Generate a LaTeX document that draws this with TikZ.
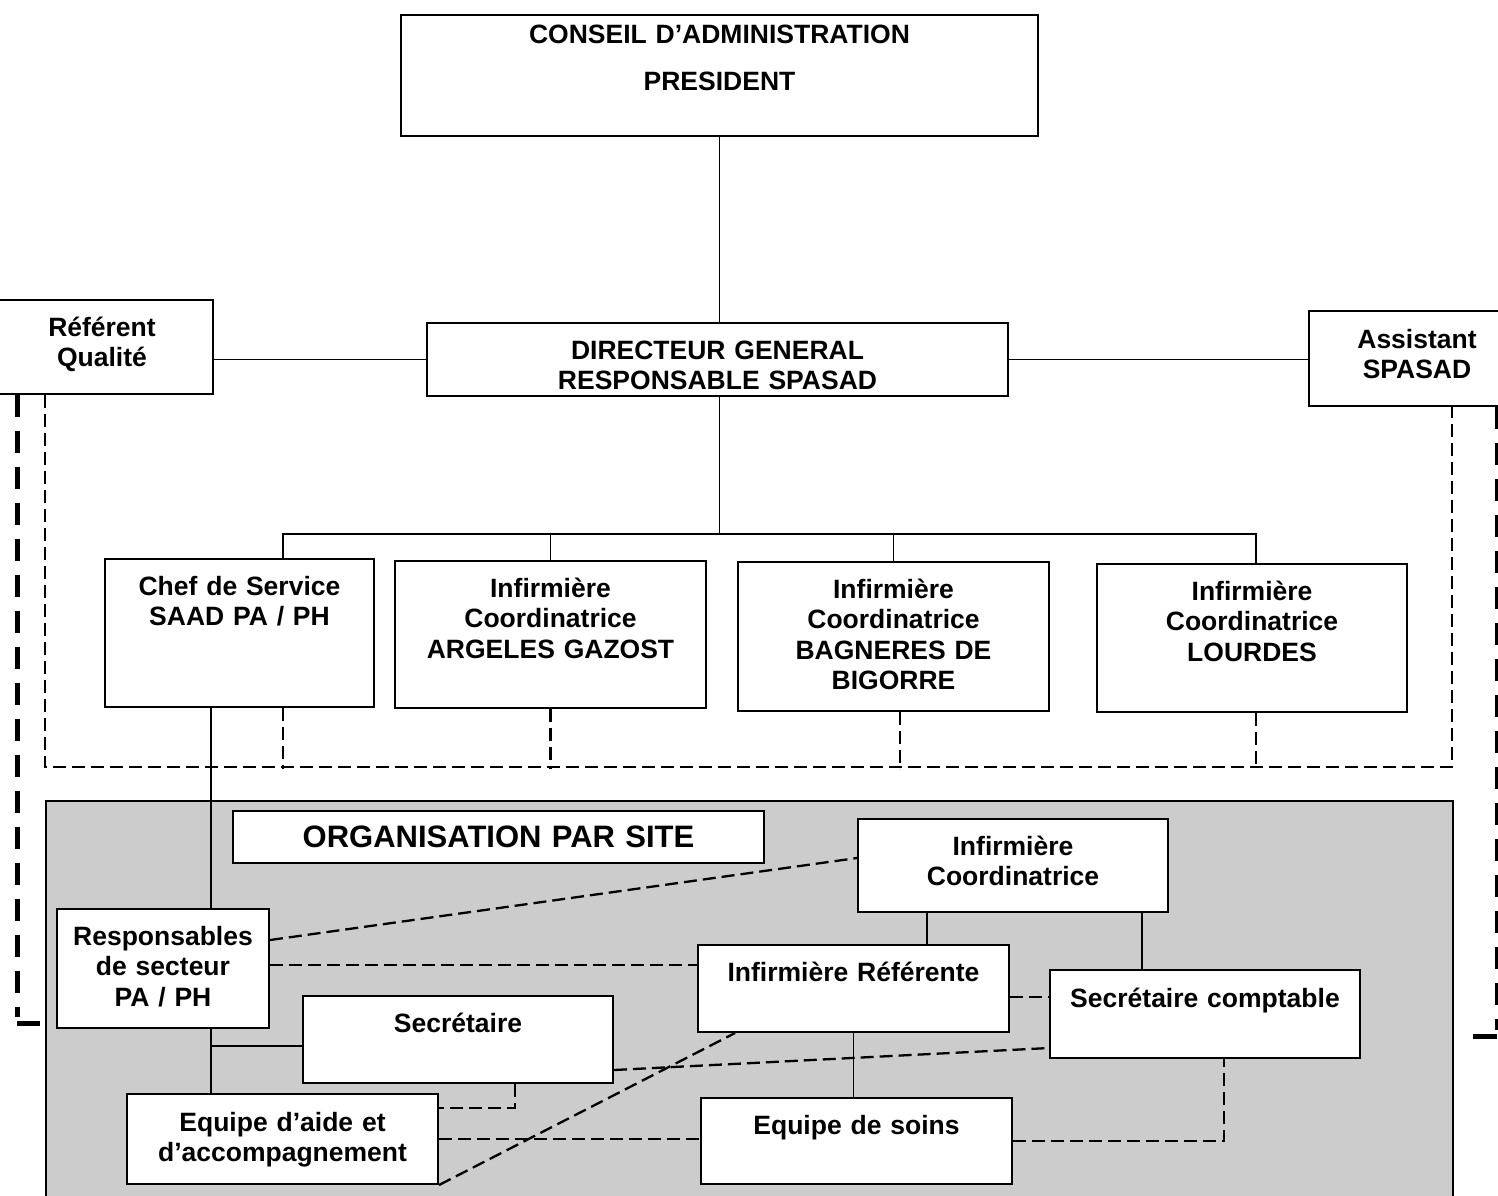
\documentclass[tikz,border=0pt]{standalone}
\usepackage{fontspec}
\setmainfont{Liberation Sans}

\begin{document}
\begin{tikzpicture}[x=1pt,y=-1pt,
	orgbox/.style={draw, line width=2pt, fill=white, anchor=north west, inner sep=0pt, align=center, text height=36pt, font=\fontsize{26.5}{30.5}\selectfont\bfseries},
	link/.style={line width=1.8pt},
	dashlink/.style={line width=2.3pt, dash pattern=on 13pt off 6pt},
	bigdash/.style={line width=5pt, dash pattern=on 22pt off 14pt}]

	\useasboundingbox (0,0) rectangle (1498,1195);

	\node (ca) [orgbox, text width=637pt, text height=28pt, text depth=93pt] at (400,14) {CONSEIL D’ADMINISTRATION\\[16.5pt]PRESIDENT};
	\node (dg) [orgbox, text width=581pt, text depth=37pt] at (426,322) {DIRECTEUR GENERAL\\RESPONSABLE SPASAD};
	\node (qual) [orgbox, text width=222pt, text depth=58pt] at (-10,299) {Référent\\Qualité};
	\node (asst) [orgbox, text width=216pt, text depth=58pt, text height=37pt] at (1308,310) {Assistant\\SPASAD};

	\node (chef) [orgbox, text width=269pt, text depth=112pt] at (104,558) {Chef de Service\\SAAD PA / PH};
	\node (argeles) [orgbox, text width=311pt, text depth=111pt] at (394,560) {Infirmière\\Coordinatrice\\ARGELES GAZOST};
	\node (bagneres) [orgbox, text width=311pt, text depth=113pt] at (737,561) {Infirmière\\Coordinatrice\\BAGNERES DE\\BIGORRE};
	\node (lourdes) [orgbox, text width=310pt, text depth=112pt] at (1096,563) {Infirmière\\Coordinatrice\\LOURDES};

	\coordinate (qline) at (45,767);
	\draw [dashlink] ([xshift=55pt]qual.south west) |- (qline) -| ([xshift=144pt]asst.south west);
	\draw [dashlink] ([xshift=179pt]chef.south west) -- ++(0,61);
	\draw [dashlink] (argeles.south) -- ++(0,60);
	\draw [dashlink] ([xshift=163pt]bagneres.south west) -- ++(0,57);
	\draw [dashlink] ([xshift=160pt]lourdes.south west) -- ++(0,56);

	\node (site) [draw, line width=2pt, fill=black!20, anchor=north west, inner sep=0pt, minimum width=1407pt, minimum height=420pt] at (45,800) {};

	\node (titre) [orgbox, text width=531pt, text depth=16pt, font=\fontsize{31}{36}\selectfont\bfseries] at (232,810) {ORGANISATION PAR SITE};
	\node (ic) [orgbox, text width=310pt, text depth=57pt] at (857,818) {Infirmière\\Coordinatrice};
	\node (resp) [orgbox, text width=212pt, text depth=83pt] at (56,908) {Responsables\\de secteur\\PA / PH};
	\node (iref) [orgbox, text width=311pt, text depth=51pt] at (697,944) {Infirmière Référente};
	\node (secc) [orgbox, text width=310pt, text depth=51pt, text height=37pt] at (1049,969) {Secrétaire comptable};
	\node (sec) [orgbox, text width=310pt, text depth=51pt] at (302,995) {Secrétaire};
	\node (aide) [orgbox, text width=311pt, text depth=53pt, text height=37pt] at (126,1093) {Equipe d’aide et\\d’accompagnement};
	\node (soins) [orgbox, text width=311pt, text depth=50pt] at (700,1097) {Equipe de soins};

	\draw [link] (ca.south) -- (ca.south |- dg.north);
	\draw [link] (qual.east |- dg.west) -- (dg.west);
	\draw [link] (dg.east) -- (dg.east -| asst.west);
	\draw [link] (ca.south |- dg.south) -- ++(0,137) coordinate (bus);
	\draw [link] ([xshift=179pt]chef.north west) |- (bus) -| ([xshift=160pt]lourdes.north west);
	\draw [link] (argeles.north) -- (argeles.north |- bus);
	\draw [link] (bagneres.north) -- (bagneres.north |- bus);

	\draw [link] ([xshift=107pt]chef.south west) -- ++(0,202);
	\draw [link] ([xshift=155pt]resp.south west) -- ++(0,66);
	\draw [link] ([yshift=-51pt]sec.north west) -- ++(-91,0);
	\draw [link] ([xshift=70pt]ic.south west) -- ++(0,33);
	\draw [link] ([xshift=285pt]ic.south west) -- ++(0,58);
	\draw [link] (iref.south) -- (iref.south |- soins.north);

	\draw [dashlink] ([yshift=-32pt]resp.north east) -- ([yshift=-40pt]ic.north west);
	\draw [dashlink] ([yshift=-57pt]resp.north east) -- ++(429,0);
	\draw [dashlink] ([yshift=-53pt]iref.north east) -- ++(41,0);
	\draw [dashlink] ([yshift=-75pt]sec.north east) -- ([yshift=-79pt]secc.north west);
	\draw [dashlink] ([xshift=213pt]sec.south west) |- ([yshift=-15pt]aide.north east);
	\draw [dashlink] (aide.east) -- (aide.east -| soins.west);
	\draw [dashlink] (aide.south east) -- ([xshift=38pt]iref.south west);
	\draw [dashlink] (soins.east) -| ([xshift=175pt]secc.south west);

	\draw [bigdash] ([xshift=27pt]qual.south west) -- ++(0,622);
	\draw [line width=5pt] ([xshift=27pt]qual.south west) ++(0,628) -- ++(23,0);
	\draw [bigdash] ([xshift=189pt]asst.south west) -- ++(0,623);
	\draw [line width=5pt] ([xshift=189pt]asst.south west) ++(0,629) -- ++(-24,0);
\end{tikzpicture}
\end{document}
